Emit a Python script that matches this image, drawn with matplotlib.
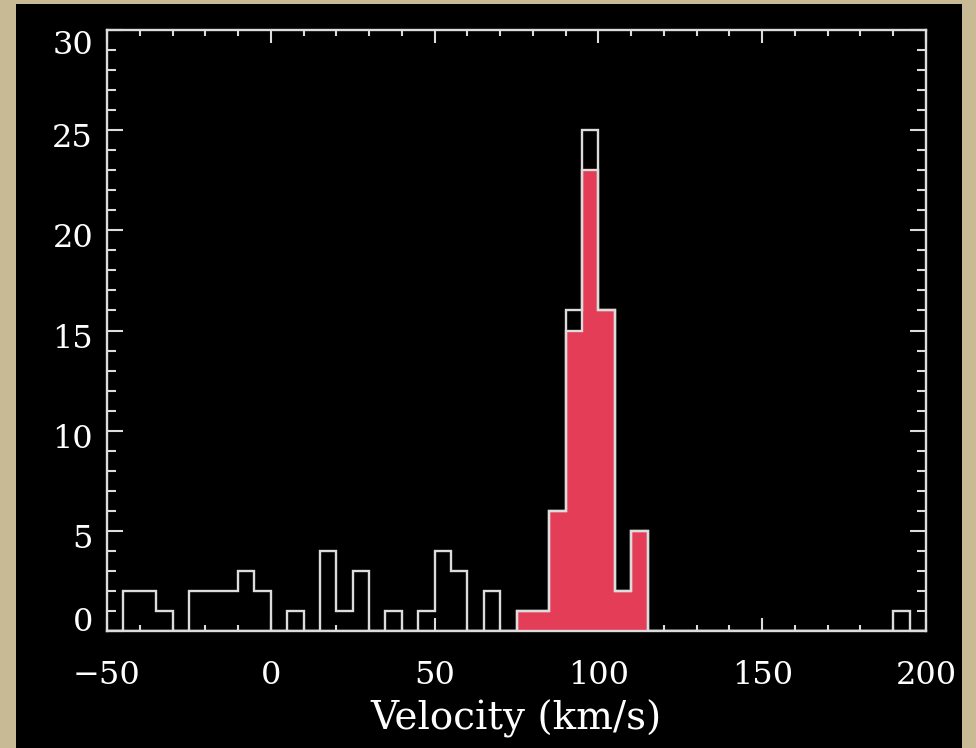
import numpy as np
import matplotlib.pyplot as plt
from matplotlib.patches import Rectangle
from matplotlib.ticker import MultipleLocator
from matplotlib.transforms import ScaledTranslation

# bin edges every 5 km/s from -50 to 200
edges = np.arange(-50, 205, 5)

# all stars
counts_all = [0, 2, 2, 1, 0, 2, 2, 2, 3, 2,
              0, 1, 0, 4, 1, 3, 0, 1, 0, 1,
              4, 3, 0, 2, 0, 1, 1, 6, 16, 25,
              16, 2, 5, 0, 0, 0, 0, 0, 0, 0,
              0, 0, 0, 0, 0, 0, 0, 0, 1, 0]

# members (filled red)
counts_member = [0] * 25 + [1, 1, 6, 15, 23, 16, 2, 5] + [0] * 17

xticks = [-50, 0, 50, 100, 150, 200]
yticks = [0, 5, 10, 15, 20, 25, 30]

fill_color = '#e33d58'
line_color = '#dcdcdc'
font = 'DejaVu Serif'

fig = plt.figure(figsize=(9.76, 7.48), dpi=100)
fig.patch.set_facecolor('#c9ba96')
fig.patches.append(Rectangle((16 / 976, 0), (962 - 16) / 976, 1 - 4 / 748,
                             transform=fig.transFigure, facecolor='black',
                             edgecolor='none', zorder=-5))

ax = fig.add_axes([107 / 976, 1 - 631 / 748, (926 - 107) / 976, (631 - 30) / 748])
ax.set_zorder(5)
ax.set_facecolor('black')

ax.stairs(counts_member, edges, fill=True, color=fill_color, zorder=2)
ax.stairs(counts_member, edges, color=line_color, lw=1.7, zorder=3)
ax.stairs(counts_all, edges, color=line_color, lw=1.7, zorder=3)

ax.set_xlim(-50, 200)
ax.set_ylim(0, 30)
ax.set_xticks(xticks)
ax.set_yticks(yticks)
ax.xaxis.set_minor_locator(MultipleLocator(10))
ax.yaxis.set_minor_locator(MultipleLocator(1))

for s in ax.spines.values():
    s.set_color(line_color)
    s.set_linewidth(1.7)

ax.tick_params(which='both', direction='in', top=True, right=True,
               colors=line_color, width=1.5, labelcolor='white')
ax.tick_params(axis='x', which='major', length=9.5, pad=21, labelsize=23)
ax.tick_params(axis='x', which='minor', length=4.5)
ax.tick_params(axis='y', which='major', length=11.5, pad=10, labelsize=23)
ax.tick_params(axis='y', which='minor', length=6.5)

for lab in ax.get_xticklabels() + ax.get_yticklabels():
    lab.set_fontfamily(font)

# IDL style: end labels pulled inside, middle ones sit a bit low
ylabels = ax.get_yticklabels()
shift = ScaledTranslation(0, -0.05, fig.dpi_scale_trans)
for lab in ylabels[1:-1]:
    lab.set_transform(lab.get_transform() + shift)
ylabels[0].set_verticalalignment('baseline')
ylabels[-1].set_verticalalignment('top')

ax.set_xlabel('Velocity (km/s)', color='white', fontsize=28,
              fontfamily=font, labelpad=6)

fig.savefig('out.png', dpi=100, facecolor=fig.get_facecolor())
